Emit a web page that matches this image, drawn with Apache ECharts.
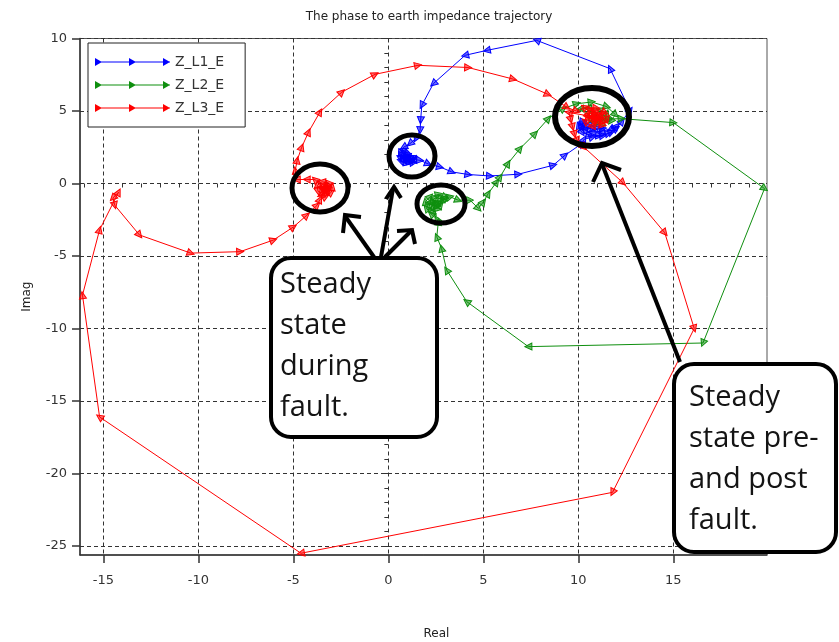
<!DOCTYPE html>
<html>
<head>
<meta charset="utf-8">
<script src="https://cdn.jsdelivr.net/npm/echarts@6.0.0/dist/echarts.min.js"></script>
<style>
  html, body { margin: 0; padding: 0; background: #fff; }
  #chart { width: 839px; height: 642px; }
</style>
</head>
<body>
<div id="chart"></div>
<script>
// Axis extents and tick positions (Real / Imag, in ohms)
const xRange = [-16.23, 19.93];
const yRange = [-25.62, 10];
const xMajorTicks = [-15, -10, -5, 0, 5, 10, 15];
const yMajorTicks = [-25, -20, -15, -10, -5, 0, 5, 10];
const xMinorTicks = [-16, -15, -14, -13, -12, -11, -10, -9, -8, -7, -6, -5, -4, -3, -2, -1, 0, 1, 2, 3, 4, 5, 6, 7, 8, 9, 10, 11, 12, 13, 14, 15, 16, 17, 18, 19];
const yMinorTicks = [-25, -24, -23, -22, -21, -20, -19, -18, -17, -16, -15, -14, -13, -12, -11, -10, -9, -8, -7, -6, -5, -4, -3, -2, -1, 0, 1, 2, 3, 4, 5, 6, 7, 8, 9, 10];

const seriesNames = ['Z_L1_E', 'Z_L2_E', 'Z_L3_E'];

// Phase L1 to earth impedance trajectory [Real, Imag]
const zL1E = [
  [10.15, 4.2], [10.0, 3.9], [10.2, 3.5], [10.6, 3.35], [11.1, 3.3], [11.6, 3.45], [12.0, 3.8], [12.3, 4.3],
  [12.72, 5.05], [11.67, 7.92], [7.81, 9.87], [5.18, 9.18], [4.04, 8.84], [2.37, 6.89], [1.76, 5.39],
  [1.7, 4.36], [1.67, 3.67], [1.45, 3.1], [1.14, 2.75], [0.8, 2.5], [0.62, 2.07], [0.65, 1.7], [0.7, 1.49],
  [1.0, 1.4], [1.32, 1.45], [1.4, 1.7], [1.23, 1.83], [1.0, 1.9], [0.9, 1.7], [1.1, 1.6], [0.95, 2.2],
  [0.75, 2.3], [0.68, 1.9], [0.85, 1.55], [1.15, 1.5], [1.3, 1.65], [1.1, 1.75], [0.85, 1.8], [0.95, 2.0],
  [1.05, 1.7], [1.67, 1.6], [2.1, 1.35], [2.72, 1.14], [3.34, 0.8], [4.21, 0.62], [5.35, 0.52], [6.84, 0.64],
  [8.68, 1.26], [9.3, 1.95], [10.18, 2.75], [10.3, 3.05], [10.75, 3.2], [11.3, 3.3], [11.75, 3.55],
  [12.0, 3.95], [11.7, 3.75], [11.2, 3.6], [10.7, 3.55], [10.3, 3.7], [10.1, 4.0], [10.35, 3.85],
  [10.8, 3.75], [11.3, 3.8], [10.9, 3.95], [10.5, 4.05], [10.2, 4.2]
];

// Phase L2 to earth impedance trajectory [Real, Imag]
const zL2E = [
  [11.0, 4.45], [11.6, 4.45], [12.28, 4.47], [15.0, 4.2], [19.8, -0.35], [16.56, -11.0], [7.37, -11.25],
  [4.13, -8.15], [3.07, -5.97], [2.8, -4.48], [2.55, -3.68], [2.63, -2.64], [2.55, -2.45], [2.25, -2.1],
  [2.0, -1.7], [1.95, -1.25], [2.2, -0.9], [2.65, -0.75], [3.0, -0.95], [2.85, -1.25], [2.5, -1.45],
  [2.35, -1.7], [2.6, -1.75], [2.75, -1.5], [2.55, -1.3], [2.2, -1.3], [2.15, -1.6], [2.4, -2.0],
  [2.3, -1.2], [2.45, -1.0], [2.8, -1.05], [2.5, -1.55], [3.0, -1.0], [3.25, -0.92], [3.68, -1.15],
  [4.3, -1.15], [4.74, -1.72], [5.0, -1.27], [5.26, -0.69], [5.7, 0.11], [5.88, 0.45], [6.3, 1.38],
  [6.93, 2.41], [7.72, 3.44], [8.42, 4.48], [9.21, 5.17], [9.92, 5.5], [10.7, 5.62], [11.5, 5.3],
  [11.95, 4.75], [11.7, 4.3], [11.2, 4.15], [10.8, 4.25], [10.6, 4.55], [10.9, 4.8], [11.2, 4.55],
  [11.4, 4.45], [11.5, 4.85], [11.1, 5.1], [10.5, 5.2], [10.1, 5.15], [11.0, 4.4]
];

// Phase L3 to earth impedance trajectory [Real, Imag]
const zL3E = [
  [10.8, 4.6], [9.5, 4.9], [9.6, 4.4], [9.7, 3.9], [9.8, 3.4], [9.95, 2.95], [10.3, 2.5], [12.35, 0.05],
  [14.55, -3.4], [16.1, -10.0], [11.8, -21.3], [-4.6, -25.5], [-15.2, -16.1], [-16.1, -7.7], [-15.2, -3.2],
  [-14.2, -0.6], [-14.5, -1.0], [-14.4, -1.5], [-13.1, -3.55], [-10.4, -4.8], [-7.8, -4.7], [-6.05, -3.9],
  [-5.0, -3.0], [-4.3, -2.2], [-3.75, -1.5], [-3.6, -1.1], [-3.3, -0.9], [-3.0, -0.6], [-2.95, -0.25],
  [-3.15, 0.05], [-3.5, 0.12], [-3.75, -0.15], [-3.7, -0.55], [-3.4, -0.7], [-3.15, -0.45], [-3.25, -0.15],
  [-3.5, -0.2], [-3.45, -0.45], [-3.3, -0.35], [-3.2, -0.6], [-3.55, -0.8], [-3.1, -0.2], [-3.4, -0.3],
  [-3.86, 0.27], [-4.3, 0.28], [-4.82, 0.27], [-4.9, 0.9], [-4.8, 1.6], [-4.56, 2.5], [-4.2, 3.55],
  [-3.6, 4.93], [-2.45, 6.3], [-0.7, 7.53], [1.56, 8.15], [4.2, 8.0], [6.57, 7.2], [8.4, 6.15], [9.4, 5.25],
  [9.9, 5.0], [10.4, 5.25], [10.95, 5.2], [11.4, 4.9], [11.5, 4.4], [11.2, 4.0], [10.7, 3.95], [10.35, 4.3],
  [10.5, 4.8], [10.9, 4.95], [11.2, 4.6], [11.0, 4.25], [10.7, 4.4], [10.8, 4.7], [11.0, 4.55], [11.25, 4.8],
  [10.6, 5.05], [10.45, 4.55], [11.3, 4.25], [10.85, 4.5], [10.8, 4.6]
];

const seriesData = [zL1E, zL2E, zL3E];
const seriesColors = ['#0000ff', '#0f8f0f', '#ff0000'];
const markerFills = ['rgba(0,0,255,0.55)', 'rgba(15,143,15,0.55)', 'rgba(255,0,0,0.55)'];

const tickFont = { fontFamily: 'DejaVu Sans', fontSize: 13, color: '#333' };
const gridDash = { color: '#333', width: 1, type: [4, 3] };

const legendIcon = 'path://M0,3.5H75V4.5H0Z M0,0L7,4L0,8Z M34,0L41,4L34,8Z M68,0L75,4L68,8Z';

const option = {
  animation: false,
  backgroundColor: '#fff',
  title: {
    text: 'The phase to earth impedance trajectory',
    left: 424, top: 6, textAlign: 'center',
    textStyle: { fontFamily: 'DejaVu Sans', fontSize: 12, fontWeight: 'normal', color: '#222' }
  },
  legend: {
    orient: 'vertical',
    left: 88, top: 43,
    padding: [12, 21, 12, 7],
    itemGap: 9,
    itemWidth: 75, itemHeight: 8,
    icon: legendIcon,
    backgroundColor: '#fff',
    borderColor: '#222', borderWidth: 1, borderRadius: 0,
    textStyle: { fontFamily: 'DejaVu Sans', fontSize: 14, color: '#333' },
    data: seriesNames.map((n, i) => ({ name: n, itemStyle: { color: seriesColors[i], borderWidth: 0 } })),
    selectedMode: false,
    z: 20
  },
  grid: {
    left: 80, right: 72, top: 38.5, bottom: 87,
    outerBoundsMode: 'none',
    containLabel: false,
    show: true, borderColor: '#555', borderWidth: 1, backgroundColor: 'transparent'
  },
  xAxis: [
    {
      type: 'value', min: xRange[0], max: xRange[1], position: 'bottom',
      name: 'Real', nameLocation: 'middle', nameGap: 73,
      nameTextStyle: { fontFamily: 'DejaVu Sans', fontSize: 12, color: '#222', padding: [0, 0, 0, 26] },
      axisLine: { show: true, onZero: false, lineStyle: { color: '#333', width: 1.5 } },
      axisTick: { show: true, length: 8, customValues: xMajorTicks, lineStyle: { color: '#333', width: 1.5 } },
      axisLabel: { customValues: xMajorTicks, margin: 19, ...tickFont },
      splitLine: { show: true, lineStyle: gridDash }
    },
    {
      type: 'value', min: xRange[0], max: xRange[1], position: 'bottom',
      axisLine: { show: false },
      axisTick: { show: true, length: 4, customValues: xMinorTicks, lineStyle: { color: '#333', width: 1 } },
      axisLabel: { show: false },
      splitLine: { show: false }
    }
  ],
  yAxis: [
    {
      type: 'value', min: yRange[0], max: yRange[1], position: 'left',
      name: 'Imag', nameLocation: 'middle', nameGap: 47, nameRotate: 90,
      nameTextStyle: { fontFamily: 'DejaVu Sans', fontSize: 12, color: '#222' },
      axisLine: { show: true, onZero: false, lineStyle: { color: '#333', width: 1.5 } },
      axisTick: { show: true, length: 8, customValues: yMajorTicks, lineStyle: { color: '#333', width: 1.5 } },
      axisLabel: { customValues: yMajorTicks, margin: 13, ...tickFont },
      splitLine: { show: true, lineStyle: gridDash }
    },
    {
      type: 'value', min: yRange[0], max: yRange[1], position: 'left',
      axisLine: { show: false },
      axisTick: { show: true, length: 4, customValues: yMinorTicks, lineStyle: { color: '#333', width: 1 } },
      axisLabel: { show: false },
      splitLine: { show: false }
    }
  ],
  series: seriesNames.map((n, i) => ({
    name: n,
    type: 'line',
    xAxisIndex: 0, yAxisIndex: 0,
    data: seriesData[i],
    showSymbol: true,
    symbol: 'triangle',
    symbolSize: 7,
    lineStyle: { color: seriesColors[i], width: 1 },
    itemStyle: { color: markerFills[i], borderColor: seriesColors[i], borderWidth: 1 },
    emphasis: { disabled: true },
    z: 2 + i
  })),
  graphic: { elements: [] }
};

const chart = echarts.init(document.getElementById('chart'), null, { renderer: 'canvas' });
chart.setOption(option);

// Orient every triangle marker along the direction of travel on screen
function orientMarkers(pts) {
  const px = pts.map(p => chart.convertToPixel({ xAxisIndex: 0, yAxisIndex: 0 }, p));
  return pts.map((p, i) => {
    const a = i > 0 ? px[i - 1] : px[i];
    const b = i > 0 ? px[i] : px[i + 1];
    const ang = Math.atan2(-(b[1] - a[1]), b[0] - a[0]) * 180 / Math.PI;
    return { value: p, symbolRotate: ang - 90 };
  });
}

// Hand-drawn style annotations: rings, arrows and call-out boxes
const ringStyle = (w) => ({ fill: 'none', stroke: '#000', lineWidth: w });
const arrowStyle = { fill: 'none', stroke: '#000', lineWidth: 4, lineJoin: 'miter', lineCap: 'butt' };
const calloutFont = { fontFamily: 'Open Sans', fontSize: 29, fill: '#141414', lineHeight: 41 };

const annotations = [
  { type: 'ellipse', shape: { cx: 320, cy: 188, rx: 28, ry: 24 }, style: ringStyle(5), z: 100 },
  { type: 'ellipse', shape: { cx: 412, cy: 156, rx: 23, ry: 21 }, style: ringStyle(5), z: 100 },
  { type: 'ellipse', shape: { cx: 441, cy: 204, rx: 24, ry: 19 }, style: ringStyle(5), z: 100 },
  { type: 'ellipse', shape: { cx: 592, cy: 117, rx: 37, ry: 29 }, style: ringStyle(6), z: 100 },

  { type: 'polyline', shape: { points: [[374, 257], [345, 216]] }, style: arrowStyle, z: 100 },
  { type: 'polyline', shape: { points: [[343, 233], [345, 215], [361, 217]] }, style: arrowStyle, z: 100 },
  { type: 'polyline', shape: { points: [[381, 257], [393, 189]] }, style: arrowStyle, z: 100 },
  { type: 'polyline', shape: { points: [[386, 199], [394, 187], [401, 198]] }, style: arrowStyle, z: 100 },
  { type: 'polyline', shape: { points: [[385, 257], [411, 231]] }, style: arrowStyle, z: 100 },
  { type: 'polyline', shape: { points: [[397, 231], [412, 230], [415, 244]] }, style: arrowStyle, z: 100 },
  { type: 'polyline', shape: { points: [[680, 362], [602, 164]] }, style: arrowStyle, z: 100 },
  { type: 'polyline', shape: { points: [[593, 182], [602, 163], [621, 170]] }, style: arrowStyle, z: 100 },

  { type: 'rect', shape: { x: 271, y: 258, width: 166, height: 179, r: 20 },
    style: { fill: '#fff', stroke: '#000', lineWidth: 4 }, z: 100 },
  { type: 'text', x: 280, y: 264.5, z: 101,
    style: { text: 'Steady\nstate\nduring\nfault.', ...calloutFont, verticalAlign: 'top' } },
  { type: 'rect', shape: { x: 674, y: 364, width: 162, height: 188, r: 20 },
    style: { fill: '#fff', stroke: '#000', lineWidth: 4 }, z: 100 },
  { type: 'text', x: 689, y: 377.5, z: 101,
    style: { text: 'Steady\nstate pre-\nand post\nfault.', ...calloutFont, verticalAlign: 'top' } }
];

chart.setOption({
  series: seriesData.map((d, i) => ({ name: seriesNames[i], data: orientMarkers(d) })),
  graphic: { elements: annotations }
});
</script>
</body>
</html>
